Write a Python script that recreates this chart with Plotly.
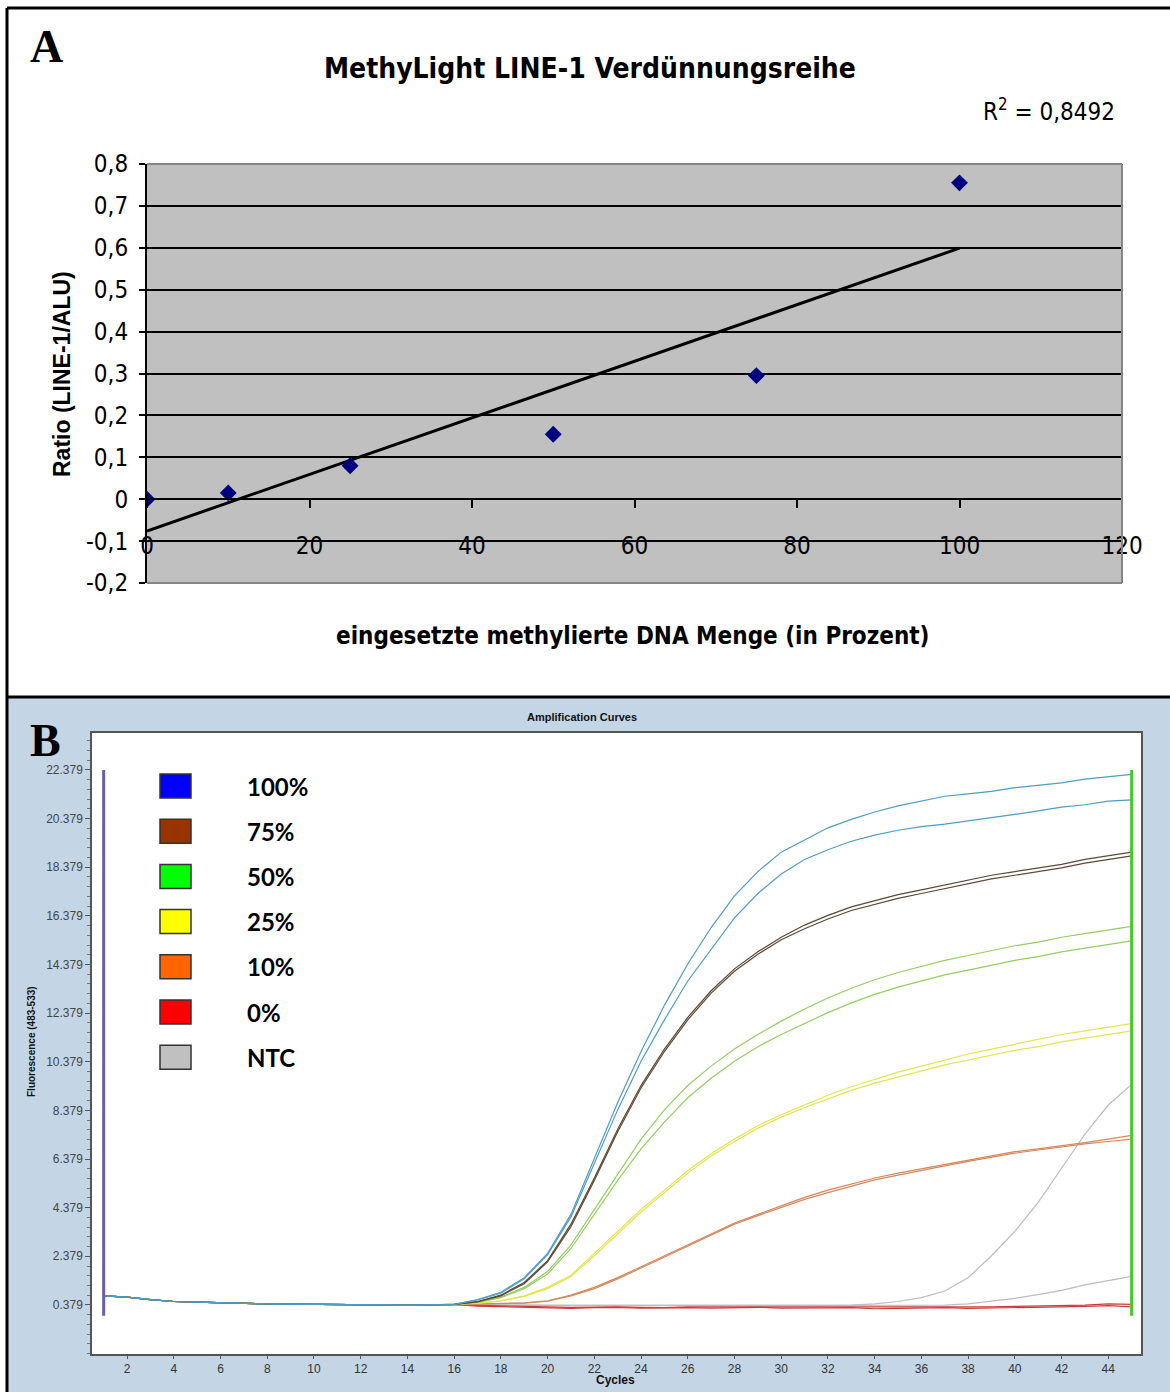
import numpy as np
import plotly.graph_objects as go

W, H = 1170, 1392
NARROW = "DejaVu Sans Condensed, Liberation Sans Narrow, Arial Narrow, sans-serif"
ARIAL = "Liberation Sans, Arial, sans-serif"
SERIF = "Liberation Serif, Times New Roman, serif"
CAL = "Lato, Open Sans, sans-serif"

# ---------------- Panel A data ----------------
a_title = "MethyLight LINE-1 Verdünnungsreihe"
a_x = [0, 10, 25, 50, 75, 100]
a_y = [0.0, 0.015, 0.08, 0.155, 0.295, 0.755]
a_r2_text = "R<sup>2</sup> = 0,8492"
a_xticks = [0, 20, 40, 60, 80, 100, 120]
a_yticks = [-0.2, -0.1, 0.0, 0.1, 0.2, 0.3, 0.4, 0.5, 0.6, 0.7, 0.8]
a_yticklabels = ["-0,2", "-0,1", "0", "0,1", "0,2", "0,3", "0,4", "0,5", "0,6", "0,7", "0,8"]
a_xlabel = "eingesetzte methylierte DNA Menge (in Prozent)"
a_ylabel = "Ratio (LINE-1/ALU)"

# ---------------- Panel B data ----------------
cycles = list(range(1, 46))
b_xticks = list(range(2, 45, 2))
b_yticks = [0.379, 2.379, 4.379, 6.379, 8.379, 10.379, 12.379, 14.379, 16.379, 18.379, 20.379, 22.379]
baseline = [0.75, 0.70, 0.60, 0.52, 0.49, 0.46, 0.44, 0.42, 0.41, 0.40, 0.39, 0.38, 0.36, 0.37, 0.38, 0.40]

blue_a = baseline + [0.6, 0.9, 1.5, 2.5, 4.1, 6.4, 8.7, 10.8, 12.7, 14.4, 15.9, 17.2, 18.2, 19.0, 19.5, 20.0, 20.35, 20.65, 20.9, 21.1, 21.3, 21.4, 21.5, 21.65, 21.75, 21.85, 22.0, 22.1, 22.2]
blue_b = baseline + [0.58, 0.86, 1.45, 2.45, 4.0, 6.2, 8.4, 10.4, 12.1, 13.7, 15.0, 16.3, 17.3, 18.1, 18.7, 19.1, 19.45, 19.7, 19.9, 20.05, 20.15, 20.28, 20.4, 20.55, 20.7, 20.85, 20.95, 21.1, 21.15]
brown_a = baseline + [0.52, 0.78, 1.3, 2.2, 3.7, 5.6, 7.6, 9.4, 10.9, 12.2, 13.3, 14.2, 14.9, 15.5, 16.0, 16.4, 16.75, 17.0, 17.25, 17.45, 17.65, 17.85, 18.05, 18.2, 18.35, 18.5, 18.7, 18.85, 19.0]
brown_b = baseline + [0.5, 0.75, 1.25, 2.15, 3.6, 5.5, 7.5, 9.3, 10.8, 12.1, 13.2, 14.1, 14.8, 15.4, 15.85, 16.25, 16.6, 16.85, 17.1, 17.3, 17.5, 17.7, 17.9, 18.05, 18.2, 18.35, 18.55, 18.7, 18.85]
green_a = baseline + [0.5, 0.7, 1.1, 1.75, 2.85, 4.3, 5.8, 7.2, 8.4, 9.4, 10.2, 10.9, 11.5, 12.05, 12.55, 13.0, 13.4, 13.75, 14.05, 14.3, 14.55, 14.75, 14.95, 15.15, 15.3, 15.5, 15.65, 15.8, 15.95]
green_b = baseline + [0.48, 0.68, 1.05, 1.65, 2.7, 4.1, 5.5, 6.8, 7.9, 8.9, 9.7, 10.4, 11.0, 11.5, 11.95, 12.4, 12.8, 13.15, 13.45, 13.7, 13.95, 14.15, 14.35, 14.55, 14.7, 14.9, 15.05, 15.2, 15.35]
yellow_a = baseline + [0.45, 0.55, 0.75, 1.1, 1.6, 2.5, 3.4, 4.3, 5.1, 5.9, 6.6, 7.2, 7.75, 8.2, 8.6, 9.0, 9.35, 9.65, 9.95, 10.2, 10.45, 10.7, 10.9, 11.1, 11.3, 11.5, 11.65, 11.8, 11.95]
yellow_b = baseline + [0.44, 0.54, 0.73, 1.05, 1.55, 2.4, 3.3, 4.2, 5.0, 5.8, 6.5, 7.1, 7.65, 8.1, 8.5, 8.85, 9.2, 9.5, 9.75, 10.0, 10.25, 10.45, 10.65, 10.85, 11.0, 11.2, 11.35, 11.5, 11.65]
orange_a = baseline + [0.4, 0.42, 0.46, 0.55, 0.78, 1.1, 1.5, 1.95, 2.4, 2.85, 3.3, 3.75, 4.1, 4.45, 4.8, 5.1, 5.35, 5.6, 5.8, 5.98, 6.15, 6.32, 6.5, 6.68, 6.8, 6.92, 7.05, 7.2, 7.35]
orange_b = baseline + [0.39, 0.41, 0.45, 0.53, 0.75, 1.05, 1.45, 1.9, 2.35, 2.8, 3.25, 3.7, 4.05, 4.4, 4.72, 5.0, 5.27, 5.52, 5.72, 5.92, 6.1, 6.28, 6.45, 6.62, 6.75, 6.88, 7.0, 7.1, 7.2]
red_a = baseline + [0.36, 0.33, 0.32, 0.3, 0.28, 0.3, 0.3, 0.28, 0.27, 0.3, 0.3, 0.28, 0.3, 0.28, 0.3, 0.29, 0.3, 0.27, 0.28, 0.3, 0.28, 0.3, 0.3, 0.32, 0.33, 0.33, 0.37, 0.42, 0.4]
red_b = baseline + [0.33, 0.3, 0.3, 0.27, 0.24, 0.27, 0.28, 0.25, 0.26, 0.27, 0.25, 0.27, 0.28, 0.25, 0.27, 0.26, 0.27, 0.22, 0.24, 0.26, 0.27, 0.24, 0.25, 0.27, 0.28, 0.3, 0.32, 0.35, 0.3]
ntc_a = baseline + [0.38, 0.37, 0.37, 0.36, 0.36, 0.36, 0.37, 0.36, 0.36, 0.36, 0.36, 0.36, 0.37, 0.36, 0.36, 0.37, 0.37, 0.42, 0.52, 0.68, 0.95, 1.5, 2.4, 3.4, 4.6, 6.0, 7.4, 8.6, 9.45]
ntc_b = baseline + [0.38, 0.37, 0.37, 0.36, 0.36, 0.36, 0.37, 0.36, 0.36, 0.36, 0.36, 0.36, 0.37, 0.36, 0.36, 0.37, 0.37, 0.37, 0.37, 0.37, 0.37, 0.42, 0.52, 0.65, 0.8, 0.98, 1.2, 1.38, 1.55]

legend_labels = ["100%", "75%", "50%", "25%", "10%", "0%", "NTC"]
legend_colors = ["#0000ff", "#993300", "#00ff00", "#ffff00", "#ff6600", "#ff0000", "#c0c0c0"]
curve_sets = [
    ([blue_a, blue_b], "#4f9cc6"),
    ([brown_a, brown_b], "#5e4834"),
    ([green_a, green_b], "#93cf62"),
    ([yellow_a, yellow_b], "#e4e450"),
    ([orange_a, orange_b], "#d6875c"),
    ([red_a, red_b], "#cc3b3b"),
    ([ntc_a, ntc_b], "#bcbcbc"),
]


def fx(p):
    return p / W


def fy(p):
    return 1 - p / H


fig = go.Figure()

# Panel A: trend line (least squares) and points
coef = np.polyfit(a_x, a_y, 1)
tx = [min(a_x), max(a_x)]
fig.add_trace(go.Scatter(x=tx, y=list(np.polyval(coef, tx)), mode="lines",
                         line=dict(color="black", width=3), xaxis="x", yaxis="y", hoverinfo="skip"))
fig.add_trace(go.Scatter(x=a_x, y=a_y, mode="markers",
                         marker=dict(symbol="diamond", size=13, color="#000080"),
                         xaxis="x", yaxis="y"))

# Panel B curves
for curves, col in reversed(curve_sets):
    for c in curves:
        fig.add_trace(go.Scatter(x=cycles, y=c, mode="lines", line=dict(color=col, width=1.2),
                                 xaxis="x2", yaxis="y2", hoverinfo="skip"))

vl_bottom = b_yticks[0] - 0.45
fig.add_trace(go.Scatter(x=[cycles[0], cycles[0]], y=[vl_bottom, b_yticks[-1]], mode="lines",
                         line=dict(color="#6b5ca5", width=3), xaxis="x2", yaxis="y2"))
fig.add_trace(go.Scatter(x=[cycles[-1], cycles[-1]], y=[vl_bottom, b_yticks[-1]], mode="lines",
                         line=dict(color="#3fcc23", width=3), xaxis="x2", yaxis="y2"))

ya_dom = [fy(583), fy(164)]
pos_zero = ya_dom[0] + (0 - a_yticks[0]) / (a_yticks[-1] - a_yticks[0]) * (ya_dom[1] - ya_dom[0])

shapes = []
shapes.append(dict(type="rect", xref="paper", yref="paper", x0=fx(8), x1=1, y0=0, y1=fy(697),
                   fillcolor="#c4d6e6", line=dict(width=0), layer="below"))
shapes.append(dict(type="rect", xref="x2 domain", yref="y2 domain", x0=0, x1=1, y0=0, y1=1,
                   fillcolor="white", line=dict(width=0), layer="below"))
shapes.append(dict(type="rect", xref="x domain", yref="y domain", x0=0, x1=1, y0=0, y1=1,
                   fillcolor="#c0c0c0", line=dict(width=0), layer="below"))
for (x0, y0, x1, y1) in [(0, 1, 1, 1), (1, 0, 1, 1), (0, 0, 1, 0)]:
    shapes.append(dict(type="line", xref="x domain", yref="y domain", x0=x0, x1=x1, y0=y0, y1=y1,
                       line=dict(color="#858585", width=2), layer="above"))
for (x0, y0, x1, y1) in [(7, 8, 1170, 8), (7, 8, 7, 1392), (7, 697, 1170, 697)]:
    shapes.append(dict(type="line", xref="paper", yref="paper", x0=fx(x0), x1=fx(x1), y0=fy(y0), y1=fy(y1),
                       line=dict(color="black", width=3), layer="above"))
leg_y0 = 786
leg_dy = 45.2
annotations = []
for i, (lab, col) in enumerate(zip(legend_labels, legend_colors)):
    cy = leg_y0 + i * leg_dy
    shapes.append(dict(type="rect", xref="paper", yref="paper", x0=fx(160), x1=fx(191),
                       y0=fy(cy + 12), y1=fy(cy - 12), fillcolor=col,
                       line=dict(color="#333333", width=1.5), layer="above"))
    annotations.append(dict(text=f"<b>{lab}</b>", xref="paper", yref="paper", x=fx(245), y=fy(cy),
                            xanchor="left", yanchor="middle", showarrow=False,
                            font=dict(family=CAL, size=24, color="black")))

annotations += [
    dict(text="<b>A</b>", xref="paper", yref="paper", x=fx(28), y=fy(47), xanchor="left", yanchor="middle",
         showarrow=False, font=dict(family=SERIF, size=46, color="black")),
    dict(text="<b>B</b>", xref="paper", yref="paper", x=fx(28), y=fy(740), xanchor="left", yanchor="middle",
         showarrow=False, font=dict(family=SERIF, size=46, color="black")),
    dict(text=f"<b>{a_title}</b>", xref="paper", yref="paper", x=fx(590), y=fy(69), xanchor="center",
         yanchor="middle", showarrow=False, font=dict(family=NARROW, size=28, color="black")),
    dict(text=a_r2_text, xref="paper", yref="paper", x=fx(1117), y=fy(110), xanchor="right",
         yanchor="middle", showarrow=False, font=dict(family=NARROW, size=24, color="black")),
    dict(text=f"<b>{a_xlabel}</b>", xref="paper", yref="paper", x=fx(632), y=fy(636), xanchor="center",
         yanchor="middle", showarrow=False, font=dict(family=NARROW, size=24, color="black")),
    dict(text=f"<b>{a_ylabel}</b>", xref="paper", yref="paper", x=fx(62), y=fy(374), xanchor="center",
         yanchor="middle", textangle=-90, showarrow=False, font=dict(family=ARIAL, size=23, color="black")),
    dict(text="<b>Amplification Curves</b>", xref="paper", yref="paper", x=fx(582), y=fy(717),
         xanchor="center", yanchor="middle", showarrow=False, font=dict(family=ARIAL, size=11, color="#111")),
    dict(text="<b>Cycles</b>", xref="paper", yref="paper", x=fx(615), y=fy(1380), xanchor="center",
         yanchor="middle", showarrow=False, font=dict(family=ARIAL, size=12, color="#111")),
    dict(text="<b>Fluorescence (483-533)</b>", xref="paper", yref="paper", x=fx(31), y=fy(1042),
         xanchor="center", yanchor="middle", textangle=-90, showarrow=False,
         font=dict(family=ARIAL, size=10, color="#111")),
]

fig.update_layout(
    template="none",
    width=W, height=H, margin=dict(l=0, r=0, t=0, b=0, autoexpand=False),
    paper_bgcolor="white", plot_bgcolor="white", showlegend=False,
    xaxis=dict(domain=[fx(147), fx(1122)], range=[0, 120], anchor="free", position=pos_zero,
               automargin=False,
               tickvals=a_xticks, ticktext=[str(v) for v in a_xticks], ticks="outside", ticklen=8,
               tickwidth=2, tickcolor="black", showline=True, linecolor="black", linewidth=2,
               showgrid=False, zeroline=False, ticklabelstandoff=17,
               tickfont=dict(family=NARROW, size=24, color="black")),
    yaxis=dict(domain=ya_dom, range=[a_yticks[0], a_yticks[-1]], anchor="x", automargin=False,
               tickvals=a_yticks, ticktext=a_yticklabels, ticks="outside", ticklen=6, tickwidth=2,
               tickcolor="black", showline=True, linecolor="black", linewidth=2,
               showgrid=True, gridcolor="black", gridwidth=2, zeroline=False, ticklabelstandoff=6,
               tickfont=dict(family=NARROW, size=24, color="black")),
    xaxis2=dict(domain=[fx(92), fx(1141)], range=[0.5, 45.4], anchor="y2", automargin=False,
                tickvals=b_xticks, ticks="outside", ticklen=3, tickcolor="#555",
                showline=True, linecolor="#555", linewidth=1.5, mirror=True,
                showgrid=False, zeroline=False, tickfont=dict(family=ARIAL, size=12, color="#333")),
    yaxis2=dict(domain=[fy(1354), fy(733)], range=[-1.64, 23.9], anchor="x2", automargin=False,
                tickvals=b_yticks, ticktext=[f"{v:.3f}" for v in b_yticks], ticks="outside", ticklen=5,
                tickcolor="#555", showline=True, linecolor="#555", linewidth=1.5, mirror=True,
                minor=dict(ticks="outside", ticklen=3, tickcolor="#777", tick0=b_yticks[0], dtick=0.4),
                showgrid=False, zeroline=False, tickfont=dict(family=ARIAL, size=12, color="#444")),
    shapes=shapes, annotations=annotations,
)

fig.write_html("out.html", config={"displayModeBar": False},
               post_script="document.body.style.margin='0';document.body.style.padding='0';")
